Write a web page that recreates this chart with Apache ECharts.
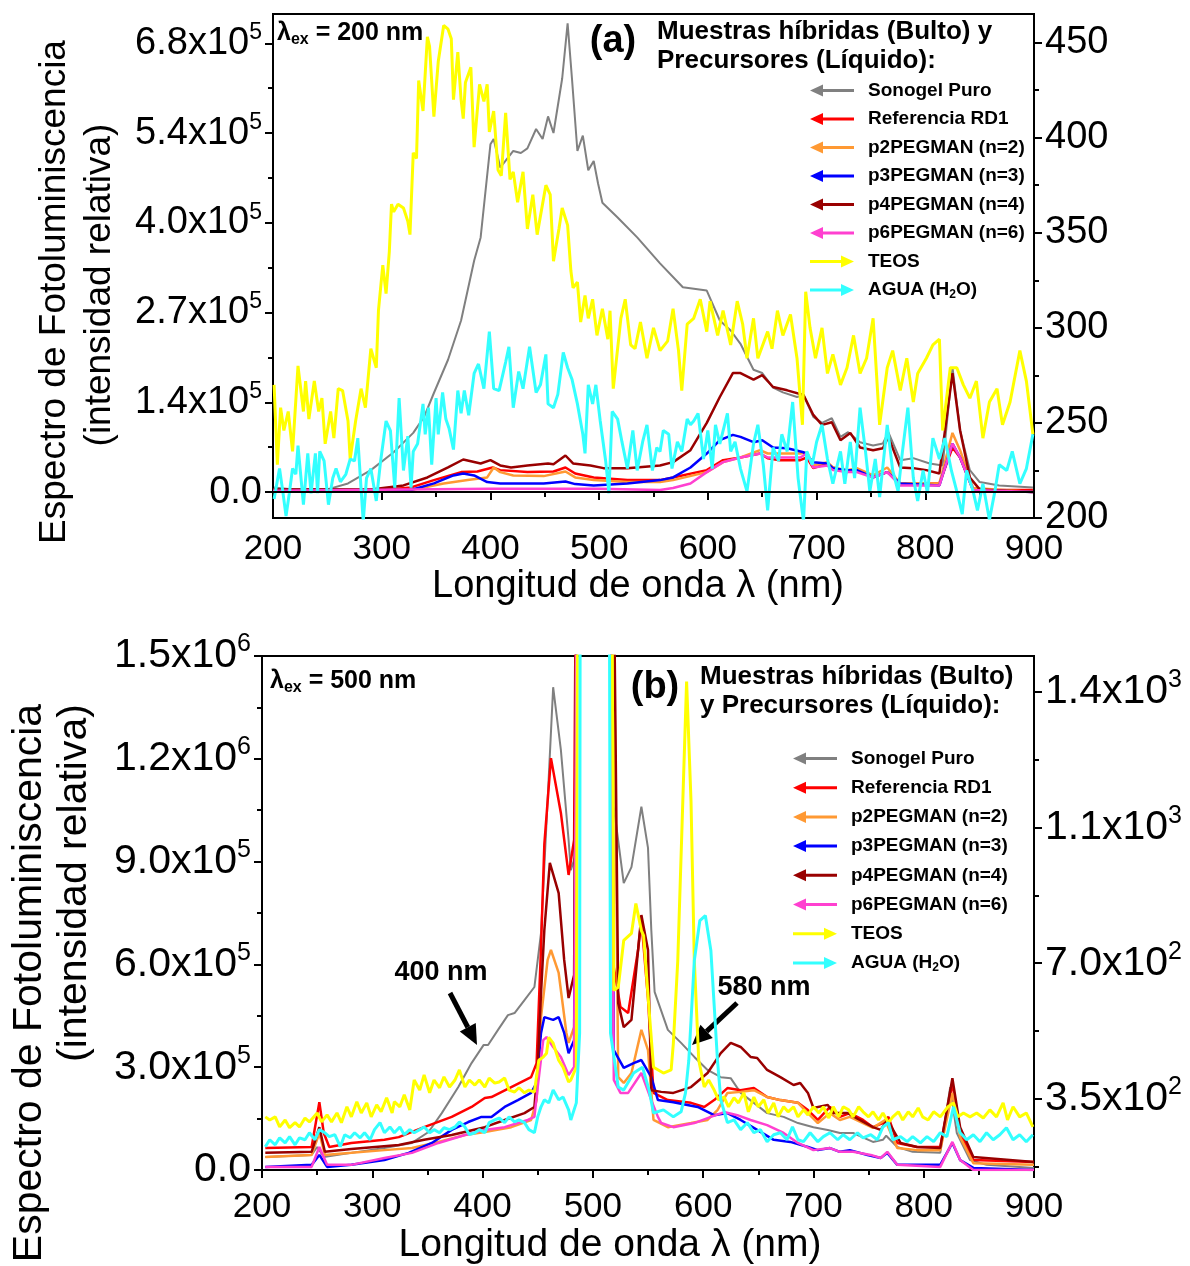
<!DOCTYPE html>
<html>
<head>
<meta charset="utf-8">
<script src="https://cdn.jsdelivr.net/npm/echarts@6/dist/echarts.min.js"></script>
<style>
  html, body { margin: 0; padding: 0; background: #fff; }
  #chart { width: 1190px; height: 1266px; }
</style>
</head>
<body>
<div id="chart"></div>
<script>
// ---- series names / colours ----
const names = ["Sonogel Puro", "Referencia RD1", "p2PEGMAN (n=2)", "p3PEGMAN (n=3)",
  "p4PEGMAN (n=4)", "p6PEGMAN (n=6)", "TEOS", "AGUA (H2O)"];
const colors = ["#808080", "#ff0000", "#ff9933", "#0000ff", "#990000", "#ff40d0", "#ffff00", "#33ffff"];

// ---- axis ticks ----
const ticksALeft = [0, 1.35, 2.7, 4.05, 5.4, 6.75];
const labelsALeft = ["0.0", "1.4", "2.7", "4.0", "5.4", "6.8"];
const expALeft = ["", "5", "5", "5", "5", "5"];
const minorALeft = [0.675, 2.025, 3.375, 4.725, 6.075];
const ticksARight = [200, 250, 300, 350, 400, 450];
const minorARight = [225, 275, 325, 375, 425];
const ticksBLeft = [0, 3, 6, 9, 12, 15];
const labelsBLeft = ["0.0", "3.0", "6.0", "9.0", "1.2", "1.5"];
const expBLeft = ["", "5", "5", "5", "6", "6"];
const minorBLeft = [1.5, 4.5, 7.5, 10.5, 13.5];
const ticksBRight = [350, 700, 1050, 1400];
const labelsBRight = ["3.5", "7.0", "1.1", "1.4"];
const expBRight = ["2", "2", "3", "3"];
const minorBRight = [175, 525, 875, 1225];

// ---- panel (a): lambda_ex = 200 nm, left axis in units of 1e5 ----
const sonogelA = [[201,0.07],[219,0.04],[250,0.04],[269,0.13],[290,0.33],[311,0.60],[329,0.89],[339,1.13],[348,1.49],[361,1.99],[373,2.58],[385,3.48],[391,3.83],[400,5.23],[403,5.31],[409,4.88],[421,5.13],[428,5.10],[434,5.17],[442,5.46],[448,5.31],[453,5.65],[458,5.40],[466,6.22],[471,7.05],[475,6.22],[480,5.13],[485,5.36],[490,4.84],[495,4.98],[499,4.64],[503,4.35],[517,4.13],[535,3.83],[556,3.44],[577,3.08],[599,3.03],[611,2.58],[621,2.43],[630,2.23],[642,1.84],[650,1.79],[660,1.57],[669,1.50],[682,1.43],[688,1.46],[697,1.13],[705,1.04],[714,1.11],[722,0.83],[729,0.90],[740,0.75],[752,0.70],[761,0.73],[766,0.90],[777,0.48],[789,0.51],[804,0.43],[816,0.40],[825,1.88],[832,0.93],[841,0.33],[850,0.15],[868,0.10],[899,0.07]];
const refA = [[200,0.03],[300,0.03],[327,0.07],[348,0.18],[373,0.30],[388,0.31],[402,0.37],[409,0.33],[434,0.30],[458,0.31],[469,0.37],[478,0.28],[495,0.22],[526,0.18],[556,0.18],[568,0.22],[599,0.33],[614,0.48],[630,0.52],[648,0.58],[655,0.51],[666,0.48],[685,0.48],[691,0.52],[697,0.36],[710,0.43],[715,0.37],[728,0.30],[737,0.33],[752,0.22],[765,0.30],[777,0.13],[813,0.13],[825,0.67],[832,0.52],[844,0.03],[899,0.03]];
const p2A = [[200,0.03],[327,0.03],[357,0.13],[379,0.18],[397,0.22],[403,0.37],[409,0.30],[421,0.25],[449,0.24],[469,0.31],[478,0.22],[495,0.18],[526,0.15],[556,0.15],[568,0.18],[599,0.30],[614,0.45],[630,0.52],[648,0.63],[655,0.58],[666,0.58],[685,0.58],[691,0.60],[697,0.40],[710,0.45],[715,0.37],[728,0.33],[737,0.36],[752,0.25],[765,0.37],[777,0.13],[813,0.13],[825,0.89],[832,0.63],[844,0.06],[899,0.0]];
const p3A = [[200,0.03],[327,0.03],[348,0.13],[366,0.25],[375,0.28],[385,0.25],[397,0.15],[409,0.13],[449,0.13],[469,0.16],[478,0.12],[495,0.10],[526,0.13],[556,0.18],[568,0.22],[584,0.37],[599,0.58],[611,0.78],[623,0.86],[630,0.83],[642,0.75],[650,0.78],[660,0.67],[673,0.66],[688,0.60],[697,0.45],[710,0.43],[715,0.36],[728,0.33],[737,0.33],[752,0.22],[765,0.30],[777,0.13],[813,0.10],[825,0.73],[832,0.52],[844,0.03],[899,0.0]];
const p4A = [[200,0.04],[290,0.04],[320,0.10],[342,0.22],[361,0.37],[375,0.49],[391,0.43],[400,0.48],[409,0.40],[419,0.37],[434,0.40],[453,0.43],[458,0.42],[469,0.55],[476,0.43],[492,0.40],[504,0.36],[526,0.36],[556,0.40],[568,0.45],[584,0.63],[599,1.04],[611,1.43],[623,1.79],[630,1.79],[642,1.69],[650,1.76],[660,1.58],[673,1.53],[688,1.46],[697,1.16],[705,1.01],[714,1.05],[722,0.78],[731,0.89],[740,0.67],[752,0.63],[761,0.66],[766,0.83],[777,0.37],[789,0.36],[801,0.33],[813,0.28],[825,1.79],[832,0.93],[841,0.22],[850,0.04],[899,0.0]];
const p6A = [[200,0.02],[400,0.05],[500,0.05],[556,0.03],[568,0.06],[584,0.13],[599,0.30],[614,0.45],[630,0.52],[648,0.58],[655,0.52],[685,0.52],[691,0.58],[697,0.37],[710,0.40],[715,0.33],[728,0.30],[737,0.30],[752,0.22],[765,0.30],[777,0.10],[813,0.10],[825,0.73],[832,0.52],[844,0.03],[899,0.0]];
// right axis (200-465)
const teosA = [[201,270],[204,228],[207,258],[210,246],[214,256],[218,235],[223,280],[228,256],[230,272],[233,252],[238,272],[242,256],[245,263],[248,239],[253,256],[256,242],[260,268],[264,267],[269,251],[271,231],[276,251],[281,268],[285,258],[290,289],[295,279],[297,309],[301,333],[304,318],[307,340],[309,365],[311,361],[315,365],[320,363],[324,356],[326,349],[329,392],[332,389],[334,430],[338,414],[342,453],[344,448],[348,411],[352,440],[357,459],[361,457],[364,452],[366,420],[370,445],[373,420],[375,410],[377,429],[382,437],[385,395],[390,428],[394,419],[397,428],[399,403],[403,414],[407,383],[410,380],[414,413],[418,378],[421,382],[425,366],[430,382],[434,352],[439,370],[443,349],[451,375],[455,370],[458,335],[463,352],[466,363],[471,354],[474,330],[476,321],[480,324],[483,303],[487,317],[490,305],[494,315],[498,296],[503,310],[508,294],[510,309],[513,268],[520,305],[524,315],[529,291],[533,289],[538,303],[544,284],[550,300],[556,288],[563,293],[568,310],[573,288],[576,267],[581,302],[587,305],[593,315],[599,298],[602,314],[609,296],[614,309],[621,291],[627,314],[632,302],[636,284],[642,305],[646,284],[655,298],[659,289],[664,309],[669,296],[676,307],[682,284],[687,249],[690,319],[694,300],[699,284],[705,300],[710,276],[715,286],[722,270],[728,279],[734,296],[740,276],[746,284],[752,305],[758,249],[765,279],[770,288],[777,267],[783,284],[789,261],[793,276],[801,284],[807,291],[813,294],[816,246],[823,279],[829,279],[835,270],[841,263],[847,272],[853,242],[859,261],[866,268],[871,249],[878,261],[887,288],[893,272],[899,244]];
const aguaA = [[201,210],[206,226],[209,214],[212,201],[215,213],[218,226],[221,223],[223,238],[228,207],[232,234],[235,213],[239,234],[241,213],[243,235],[247,230],[251,207],[255,221],[258,226],[262,219],[267,223],[271,231],[275,230],[278,242],[283,198],[286,221],[290,226],[295,209],[299,230],[304,251],[308,246],[312,216],[316,263],[320,225],[324,243],[327,216],[329,235],[333,239],[338,260],[340,244],[343,258],[346,228],[350,263],[352,244],[356,266],[359,252],[362,247],[366,236],[370,267],[373,255],[376,267],[380,254],[385,276],[389,281],[394,268],[399,298],[403,268],[408,267],[414,282],[417,290],[421,258],[426,277],[430,268],[436,290],[442,266],[446,270],[451,286],[453,260],[458,258],[462,265],[467,287],[471,279],[475,273],[480,260],[485,244],[487,234],[490,270],[494,260],[497,270],[501,251],[506,230],[509,213],[512,256],[517,252],[521,240],[526,226],[531,246],[535,225],[540,240],[544,249],[549,225],[553,237],[556,235],[559,246],[564,244],[567,226],[572,240],[576,235],[581,252],[584,249],[587,251],[591,255],[596,231],[600,246],[604,226],[607,249],[611,239],[618,255],[621,235],[625,240],[630,226],[636,214],[642,239],[646,249],[651,228],[655,204],[660,237],[665,230],[668,244],[673,235],[678,261],[683,221],[688,198],[691,235],[696,228],[700,240],[705,249],[710,231],[715,218],[722,235],[726,218],[731,240],[735,221],[740,258],[745,235],[749,214],[754,231],[758,211],[765,249],[770,225],[775,214],[779,235],[784,258],[789,221],[793,209],[798,225],[802,213],[807,242],[813,231],[818,242],[824,225],[829,214],[834,202],[838,225],[844,214],[848,204],[853,218],[859,199],[864,214],[868,228],[875,225],[880,235],[887,218],[893,226],[899,244]];

// ---- panel (b): lambda_ex = 500 nm, left axis in units of 1e5 ----
const sonogelB = [[203,0.38],[245,0.44],[250,0.67],[256,0.38],[281,0.50],[311,0.64],[336,0.79],[351,1.11],[363,1.66],[378,2.42],[390,3.12],[401,3.65],[405,3.65],[414,4.09],[423,4.52],[429,4.58],[438,4.96],[447,5.34],[453,6.92],[459,10.8],[464,14.09],[471,12.26],[478,9.63],[480,8.75],[485,9.25],[489,40],[512,40],[519,10.6],[528,8.37],[535,8.84],[544,10.6],[550,9.4],[553,7.0],[556,5.2],[568,4.09],[580,3.71],[592,3.30],[604,2.92],[616,2.71],[625,2.68],[634,2.25],[646,1.96],[658,1.66],[673,1.55],[686,1.37],[700,1.25],[713,1.17],[724,1.08],[736,1.08],[754,0.82],[763,0.88],[766,1.0],[776,0.67],[790,0.53],[815,0.50],[824,2.42],[830,1.08],[842,0.29],[857,0.15],[900,0.06]];
const refB = [[203,0.64],[245,0.67],[252,1.98],[256,1.08],[261,0.67],[281,0.79],[311,0.88],[324,0.96],[347,1.25],[372,1.55],[390,1.84],[402,2.10],[408,2.13],[426,2.42],[444,2.71],[449,3.12],[453,6.5],[456,9.5],[462,12.02],[471,10.42],[478,8.61],[483,9.63],[489,40],[512,40],[519,5.92],[525,4.76],[532,4.58],[541,6.42],[544,7.30],[550,5.0],[555,2.25],[568,2.04],[589,1.96],[601,1.84],[610,2.04],[622,2.39],[634,2.33],[646,2.39],[658,2.13],[670,2.04],[686,1.96],[695,1.75],[704,1.46],[715,1.84],[724,1.55],[733,1.66],[745,1.46],[754,1.25],[763,1.37],[768,1.55],[776,0.79],[794,0.67],[815,0.67],[826,2.54],[833,1.08],[845,0.29],[900,0.23]];
const p2B = [[203,0.38],[245,0.44],[252,1.08],[257,0.44],[281,0.50],[311,0.58],[336,0.64],[360,0.82],[384,1.02],[402,1.11],[426,1.25],[444,1.46],[449,2.04],[453,4.46],[459,6.13],[462,6.42],[469,5.75],[476,4.00],[478,3.71],[483,4.17],[489,40],[512,40],[523,2.71],[528,2.54],[535,2.83],[544,4.09],[550,3.50],[555,1.46],[568,1.25],[589,1.37],[604,1.46],[613,1.75],[622,2.25],[634,2.28],[646,2.33],[658,2.13],[670,2.04],[686,1.96],[695,1.66],[704,1.37],[715,1.66],[724,1.46],[733,1.55],[745,1.37],[754,1.23],[765,1.46],[776,0.64],[794,0.58],[815,0.58],[826,2.25],[833,0.96],[845,0.20],[900,0.15]];
const p3B = [[203,0.09],[245,0.15],[252,0.44],[259,0.09],[281,0.15],[311,0.29],[333,0.50],[354,0.79],[372,1.17],[387,1.40],[399,1.55],[408,1.55],[420,1.84],[432,2.04],[444,2.25],[449,2.54],[453,4.00],[456,4.46],[464,4.38],[469,4.46],[474,4.00],[478,3.41],[483,3.79],[489,40],[512,40],[519,3.50],[528,2.98],[537,3.12],[544,3.21],[553,2.71],[559,2.04],[573,1.98],[595,1.84],[610,1.60],[622,1.66],[634,1.46],[649,1.17],[664,0.88],[679,0.82],[695,0.67],[704,0.58],[715,0.64],[724,0.53],[733,0.58],[749,0.44],[761,0.35],[767,0.50],[776,0.15],[815,0.15],[826,0.79],[833,0.29],[845,0.06],[900,0.0]];
const p4B = [[203,0.50],[245,0.53],[252,1.25],[257,0.53],[281,0.61],[324,0.73],[347,0.88],[372,1.02],[402,1.25],[420,1.46],[438,1.66],[447,1.84],[450,3.0],[453,5.16],[456,7.00],[461,8.96],[469,8.08],[474,6.13],[478,5.02],[483,5.69],[489,40],[512,40],[523,4.87],[528,4.17],[535,4.38],[544,7.44],[550,6.42],[553,2.33],[562,2.28],[573,2.25],[589,2.42],[604,2.83],[616,3.41],[625,3.71],[634,3.59],[643,3.30],[649,3.27],[658,2.92],[670,2.71],[682,2.48],[688,2.54],[695,2.25],[700,1.81],[713,1.90],[718,1.66],[731,1.66],[742,1.46],[754,1.25],[761,1.17],[767,1.46],[779,0.79],[794,0.67],[815,0.64],[826,2.68],[833,1.25],[845,0.38],[900,0.23]];
const p6B = [[203,0.09],[245,0.09],[252,0.67],[259,0.15],[281,0.15],[311,0.35],[336,0.50],[360,0.79],[384,1.02],[402,1.17],[420,1.25],[441,1.46],[447,1.55],[450,2.42],[455,3.79],[458,3.88],[464,3.59],[471,3.30],[478,2.77],[483,3.01],[489,40],[512,40],[519,2.63],[525,2.25],[532,2.25],[544,2.83],[553,2.04],[559,1.55],[562,1.37],[573,1.25],[592,1.37],[607,1.55],[619,1.69],[631,1.60],[643,1.46],[658,1.31],[673,1.08],[686,0.79],[700,0.58],[715,0.64],[724,0.53],[736,0.53],[752,0.44],[761,0.35],[767,0.53],[776,0.15],[815,0.09],[826,0.82],[833,0.29],[845,0.0],[900,0.0]];
// right axis (167-1492)
const teosB = [[203,304],[207,296],[212,304],[216,278],[221,296],[225,276],[230,289],[234,278],[239,301],[243,291],[250,314],[254,291],[259,309],[263,291],[268,314],[272,289],[277,330],[281,304],[286,343],[290,314],[295,340],[299,304],[304,335],[308,317],[313,353],[318,314],[320,343],[325,330],[329,361],[334,322],[338,399],[343,373],[347,412],[352,366],[356,399],[361,379],[365,407],[370,381],[375,399],[379,425],[384,381],[388,399],[393,386],[397,399],[402,381],[406,404],[411,391],[415,394],[420,404],[424,373],[429,368],[433,379],[438,366],[442,373],[447,368],[451,450],[455,458],[458,468],[460,509],[464,494],[469,450],[473,432],[478,394],[480,399],[485,432],[489,5000],[512,5000],[519,630],[523,638],[528,759],[535,777],[539,854],[544,784],[546,771],[551,579],[555,432],[564,417],[571,425],[573,494],[577,707],[581,1067],[585,1426],[589,1118],[592,707],[596,450],[601,381],[605,399],[610,373],[614,348],[619,355],[623,330],[628,353],[632,340],[637,366],[641,317],[646,355],[650,330],[655,348],[659,314],[664,340],[668,304],[673,330],[677,317],[682,330],[686,304],[691,322],[695,309],[700,330],[705,314],[709,330],[714,301],[718,330],[723,304],[727,330],[732,322],[736,304],[741,330],[745,317],[750,304],[754,317],[759,296],[763,314],[768,289],[772,304],[777,317],[781,296],[786,317],[790,304],[795,327],[799,304],[804,296],[809,317],[815,304],[822,330],[827,340],[831,304],[836,314],[842,304],[848,314],[854,301],[860,322],[866,304],[872,340],[876,296],[881,330],[887,304],[893,314],[899,278]];
const aguaB = [[203,227],[207,245],[212,232],[216,250],[221,237],[225,253],[230,232],[234,250],[239,245],[243,263],[248,245],[252,271],[257,263],[261,253],[266,258],[271,227],[275,258],[280,250],[284,263],[289,250],[293,263],[298,245],[302,271],[307,289],[311,263],[316,278],[320,263],[325,278],[329,258],[334,271],[338,263],[343,271],[347,278],[352,263],[356,271],[361,263],[365,276],[370,271],[375,278],[379,291],[384,278],[388,258],[393,263],[397,271],[402,263],[406,289],[411,296],[415,301],[420,289],[424,304],[429,291],[433,296],[438,289],[442,271],[447,263],[450,304],[453,330],[456,348],[460,340],[464,373],[469,348],[473,355],[478,322],[480,296],[485,340],[488,520],[490,5000],[512,5000],[516,520],[523,381],[528,373],[537,417],[545,432],[551,373],[555,314],[564,322],[573,304],[580,317],[584,366],[587,450],[592,707],[597,810],[602,823],[607,733],[613,450],[616,348],[622,289],[628,296],[634,271],[640,289],[646,263],[652,271],[658,240],[664,258],[670,263],[676,245],[681,278],[686,245],[691,240],[697,263],[704,240],[709,253],[715,263],[722,245],[727,258],[733,245],[740,263],[745,250],[752,258],[758,245],[763,278],[768,289],[772,245],[779,253],[785,240],[790,253],[797,237],[803,253],[809,240],[815,263],[821,253],[827,330],[833,263],[839,245],[845,258],[851,240],[857,263],[863,245],[869,258],[875,276],[881,245],[887,258],[893,240],[899,258]];

const FONT = '"Liberation Sans", Arial, Helvetica, sans-serif';
const chart = echarts.init(document.getElementById("chart"), null, { renderer: "canvas" });

function sciFormatter(vals, texts, exps) {
  return function (value) {
    for (let i = 0; i < vals.length; i++) {
      if (Math.abs(vals[i] - value) < 1e-6) {
        return exps[i] ? "{m|" + texts[i] + "x10}{s|" + exps[i] + "}" : "{m|" + texts[i] + "}";
      }
    }
    return "";
  };
}
function richFor(size) {
  return {
    m: { fontSize: size, fontFamily: FONT, color: "#000" },
    s: { fontSize: Math.round(size * 0.6), fontFamily: FONT, color: "#000", padding: [0, 0, Math.round(size * 0.55), 0] }
  };
}
const blackLine = { show: true, lineStyle: { color: "#000", width: 2 } };

function mainY(grid, pos, min, max, ticks, fmt, size) {
  return {
    type: "value", gridIndex: grid, position: pos, min: min, max: max,
    axisLine: blackLine,
    axisTick: { show: true, customValues: ticks, length: 8, lineStyle: { color: "#000", width: 2 } },
    axisLabel: { customValues: ticks, formatter: fmt, margin: 11, rich: richFor(size), color: "#000" },
    splitLine: { show: false }
  };
}
function minorY(grid, pos, min, max, ticks) {
  return {
    type: "value", gridIndex: grid, position: pos, min: min, max: max,
    axisLine: { show: false },
    axisTick: { show: true, customValues: ticks, length: 5, lineStyle: { color: "#000", width: 2 } },
    axisLabel: { show: false },
    splitLine: { show: false }
  };
}
function xAx(grid, margin) {
  return {
    type: "value", gridIndex: grid, min: 200, max: 900, interval: 100,
    axisLine: blackLine,
    axisTick: { length: 8, lineStyle: { color: "#000", width: 2 } },
    minorTick: { show: true, splitNumber: 2, length: 5, lineStyle: { color: "#000", width: 2 } },
    axisLabel: { fontSize: 35, fontFamily: FONT, color: "#000", margin: margin },
    splitLine: { show: false }
  };
}

function ser(i, data, xi, yi, extra) {
  const s = {
    name: names[i], type: "line", data: data, xAxisIndex: xi, yAxisIndex: yi,
    showSymbol: false, symbol: "none", silent: true, animation: false, clip: true,
    lineStyle: { color: colors[i], width: i === 0 ? 2 : (i >= 6 ? 3 : 2.5) },
    itemStyle: { color: colors[i] }
  };
  return Object.assign(s, extra || {});
}

const ARROW_L = "path://M0,6L13,0L13,4.5L44,4.5L44,7.5L13,7.5L13,12Z";
const ARROW_R = "path://M44,6L31,0L31,4.5L0,4.5L0,7.5L31,7.5L31,12Z";
const legendData = names.map((n, i) => ({ name: n, icon: i < 6 ? ARROW_L : ARROW_R }));
function legend(left, top, gap) {
  return {
    data: legendData, left: left, top: top, orient: "vertical", selectedMode: false,
    itemWidth: 44, itemHeight: 12, itemGap: gap,
    formatter: function (n) {
      return n === "AGUA (H2O)" ? "{n|AGUA (H}{sub|2}{n|O)}" : "{n|" + n + "}";
    },
    textStyle: {
      color: "#000", fontFamily: FONT, fontWeight: "bold", fontSize: 19, lineHeight: 19,
      padding: [0, 0, 0, 9],
      rich: {
        n: { fontSize: 19, fontWeight: "bold", fontFamily: FONT, color: "#000" },
        sub: { fontSize: 12, fontWeight: "bold", fontFamily: FONT, color: "#000", padding: [10, 0, 0, 0] }
      }
    }
  };
}

function txt(x, y, text, size, opts) {
  return Object.assign({
    type: "text", x: x, y: y, silent: true,
    style: Object.assign({
      text: text, fontSize: size, fontFamily: FONT, fill: "#000",
      align: "left", verticalAlign: "middle"
    }, (opts && opts.style) || {})
  }, (opts && opts.el) || {});
}
function arrow(x1, y1, x2, y2) {
  const dx = x2 - x1, dy = y2 - y1, L = Math.sqrt(dx * dx + dy * dy);
  const ux = dx / L, uy = dy / L, hl = 20, hw = 9;
  const bx = x2 - ux * hl, by = y2 - uy * hl;
  return [
    { type: "line", silent: true, shape: { x1: x1, y1: y1, x2: bx, y2: by }, style: { stroke: "#000", lineWidth: 5 } },
    { type: "polygon", silent: true, shape: { points: [[x2, y2], [bx - uy * hw, by + ux * hw], [bx + uy * hw, by - ux * hw]] }, style: { fill: "#000" } }
  ];
}
const exRich = {
  a: { fontSize: 25, fontWeight: "bold", fontFamily: FONT, color: "#000" },
  b: { fontSize: 16, fontWeight: "bold", fontFamily: FONT, color: "#000", padding: [13, 0, 0, 0] }
};
const rot = { rotation: Math.PI / 2 };

const option = {
  backgroundColor: "#fff",
  animation: false,
  grid: [
    { left: 273, top: 14, width: 761, height: 504, show: true, borderColor: "#000", borderWidth: 2 },
    { left: 262, top: 656, width: 772, height: 514, show: true, borderColor: "#000", borderWidth: 2 }
  ],
  xAxis: [xAx(0, 14), xAx(1, 20)],
  yAxis: [
    mainY(0, "left", -0.39, 7.19, ticksALeft, sciFormatter(ticksALeft, labelsALeft, expALeft), 38),
    mainY(0, "right", 200, 465, ticksARight, function (v) { return "{m|" + v + "}"; }, 38),
    mainY(1, "left", 0, 15, ticksBLeft, sciFormatter(ticksBLeft, labelsBLeft, expBLeft), 41),
    mainY(1, "right", 167, 1492, ticksBRight, sciFormatter(ticksBRight, labelsBRight, expBRight), 41),
    minorY(0, "left", -0.39, 7.19, minorALeft),
    minorY(0, "right", 200, 465, minorARight),
    minorY(1, "left", 0, 15, minorBLeft),
    minorY(1, "right", 167, 1492, minorBRight)
  ],
  legend: [legend(805, 76, 9.5), legend(788, 744, 10.2)],
  series: [
    ser(0, sonogelA, 0, 0, {
      markLine: { silent: true, symbol: ["none", "none"], label: { show: false },
        lineStyle: { color: "#000", width: 2, type: "solid" }, data: [{ yAxis: 0 }] }
    }),
    ser(1, refA, 0, 0), ser(2, p2A, 0, 0), ser(3, p3A, 0, 0), ser(4, p4A, 0, 0), ser(5, p6A, 0, 0),
    ser(6, teosA, 0, 1), ser(7, aguaA, 0, 1),
    ser(0, sonogelB, 1, 2), ser(1, refB, 1, 2), ser(2, p2B, 1, 2), ser(3, p3B, 1, 2),
    ser(4, p4B, 1, 2), ser(5, p6B, 1, 2), ser(6, teosB, 1, 3), ser(7, aguaB, 1, 3)
  ],
  graphic: {
    elements: [
      // axis titles
      txt(55, 292, "Espectro de Fotoluminiscencia", 37, { el: rot, style: { align: "center" } }),
      txt(100, 285, "(intensidad relativa)", 37, { el: rot, style: { align: "center" } }),
      txt(638, 587, "Longitud de onda \u03bb (nm)", 38, { style: { align: "center" } }),
      txt(30, 983, "Espectro de Fotoluminiscencia", 41, { el: rot, style: { align: "center" } }),
      txt(75, 883, "(intensidad relativa)", 41, { el: rot, style: { align: "center" } }),
      txt(610, 1245, "Longitud de onda \u03bb (nm)", 39, { style: { align: "center" } }),
      // panel labels
      txt(277, 33, "{a|\u03bb}{b|ex}{a| = 200 nm}", 25, { style: { rich: exRich } }),
      txt(270, 681, "{a|\u03bb}{b|ex}{a| = 500 nm}", 25, { style: { rich: exRich } }),
      txt(613, 42, "(a)", 38, { style: { align: "center", fontWeight: "bold" } }),
      txt(655, 688, "(b)", 38, { style: { align: "center", fontWeight: "bold" } }),
      // legend headers
      txt(657, 32, "Muestras h\u00edbridas (Bulto) y", 26, { style: { fontWeight: "bold" } }),
      txt(657, 61, "Precursores (L\u00edquido):", 26, { style: { fontWeight: "bold" } }),
      txt(700, 677, "Muestras h\u00edbridas (Bulto)", 26, { style: { fontWeight: "bold" } }),
      txt(700, 706, "y Precursores (L\u00edquido):", 26, { style: { fontWeight: "bold" } }),
      // annotations
      txt(441, 973, "400 nm", 27, { style: { align: "center", fontWeight: "bold" } }),
      txt(764, 988, "580 nm", 27, { style: { align: "center", fontWeight: "bold" } })
    ].concat(arrow(450, 993, 477, 1045), arrow(737, 1003, 692, 1045))
  }
};
chart.setOption(option);
</script>
</body>
</html>
